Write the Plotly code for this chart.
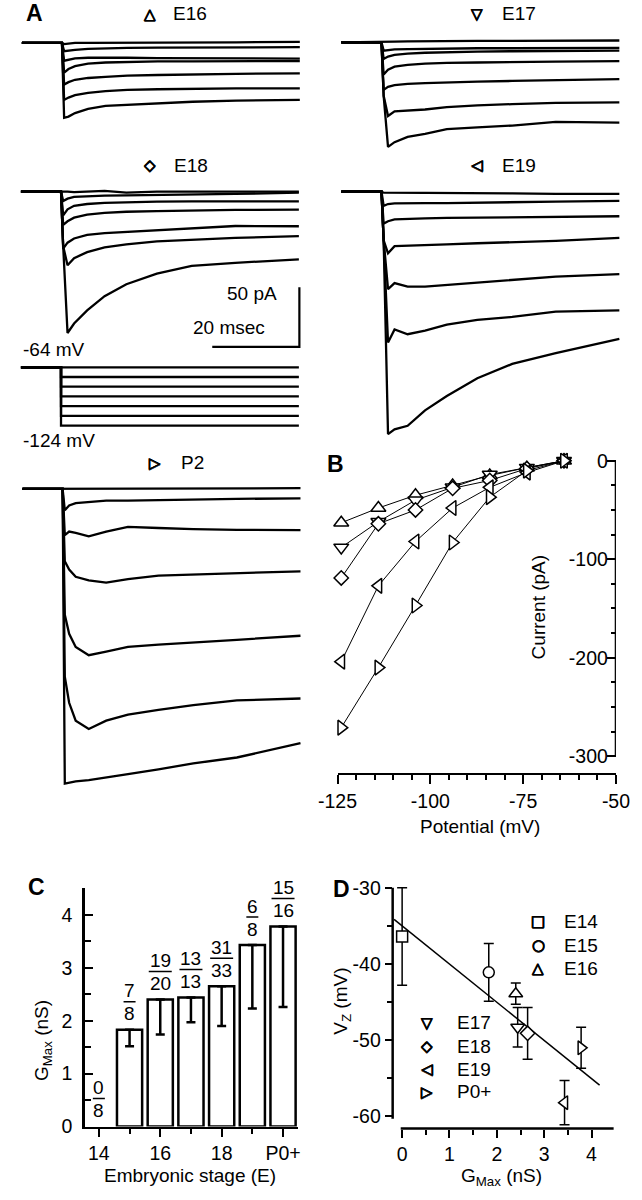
import plotly.graph_objects as go

W, H = 642, 1200
FONT = "Liberation Sans, Arial, Helvetica, sans-serif"
SYMFONT = "DejaVu Sans"

# ---------------- Panel A: whole-cell currents (time in ms, current in pA) ----------------
t_ms = [-9.2, 0, 0.5, 1.5, 3, 6, 10, 15, 22, 30, 40, 54.6]

e16_1 = [0, 0, -1, -0.5, 0, 0, 0, 0.5, 0, 0.5, 0.5, 0.8]
e16_2 = [0, 0, -7, -6.5, -5.8, -5, -4.5, -4.2, -4, -4, -3.8, -3.6]
e16_3 = [0, 0, -15, -14, -13, -12.5, -12.3, -12.5, -12.8, -13, -13, -13.2]
e16_4 = [0, 0, -25, -22, -19.5, -17.5, -16.5, -16, -15.5, -15.5, -15.3, -15.3]
e16_5 = [0, 0, -35, -33, -31, -29.5, -28.5, -27.5, -27, -26.5, -26, -25.6]
e16_6 = [0, 0, -48, -46, -44, -42, -40.5, -39.5, -39, -38.5, -38.3, -38.3]
e16_7 = [0, 0, -63, -62, -59, -55.5, -53, -52, -51, -49.5, -48.5, -48]

e17_1 = [0, 0, 0.5, 0.5, 0.5, 0.8, 1, 1, 1.2, 1.2, 1.5, 1.5]
e17_2 = [0, 0, -7, -6.5, -6, -5.8, -5.5, -5.3, -5, -5, -4.8, -4.7]
e17_3 = [0, 0, -14, -12, -10.5, -9.5, -8.8, -8.2, -7.8, -7.5, -7.2, -7]
e17_4 = [0, 0, -27, -23, -20.5, -19, -18, -17.3, -17, -16.5, -16.2, -15.8]
e17_5 = [0, 0, -40, -37.5, -36, -35, -34.3, -33.5, -33, -32.5, -31.8, -31]
e17_6 = [0, 0, -45, -62, -58, -57.5, -56.5, -54.5, -53, -52, -51, -50.5]
e17_7 = [0, 0, -45, -88, -84, -79.5, -77, -73, -71.5, -70, -67, -67.5]

e18_1 = [0, 0, 0.5, 0, -0.5, 0, 0.5, -1, 0, 0, 0, 0]
e18_2 = [0, 0, -8, -6, -4.5, -4, -3.5, -3.2, -3, -2.5, -2, -1]
e18_3 = [0, 0, -20, -15, -12, -10.5, -9.5, -9, -8.5, -8.3, -8.3, -8.3]
e18_4 = [0, 0, -28, -25, -22, -19.5, -18, -17, -16.5, -16, -15.5, -15.3]
e18_5 = [0, 0, -48, -43, -39.5, -36.5, -35, -34, -32.5, -31, -29, -29.2]
e18_6 = [0, 0, -46, -62, -56, -51, -47, -44.5, -42, -40.5, -39, -37.5]
e18_7 = [0, 0, -46, -119, -111, -100, -88, -78, -69, -62.5, -60, -57]

e19_1 = [0, 0, -1, -1, -1.5, -1, -1.5, -1, -1.5, -1.5, -2, -2]
e19_2 = [0, 0, -12, -10.5, -10, -9.7, -9.7, -9.7, -9.5, -9, -8.5, -7.8]
e19_3 = [0, 0, -27, -25, -23.5, -23, -22.5, -22.2, -22, -21.5, -21, -20.8]
e19_4 = [0, 0, -41, -52, -46, -45.5, -45, -44.4, -43.5, -42.5, -41.5, -38.9]
e19_5 = [0, 0, -41, -82, -77, -80, -80, -78.5, -76.5, -74, -71.5, -69.4]
e19_6 = [0, 0, -41, -127, -116, -120, -117, -112, -108, -105.5, -101, -100]
e19_7 = [0, 0, -41, -204, -200, -197, -184, -172, -157, -145, -136, -124]

p2_1 = [0, 0, 0, 0.5, 0, 0.5, 0, 0.5, 0, 0.5, 0.5, 0.5]
p2_2 = [0, 0, -18, -14, -12, -11, -10, -10, -9.5, -9, -8.5, -8]
p2_3 = [0, 0, -39, -36, -37, -40, -36, -32, -33, -34, -34.5, -34.7]
p2_4 = [0, 0, -61, -68, -74, -77, -79, -76, -73, -72, -71, -69.4]
p2_5 = [0, 0, -106, -122, -133, -140, -137, -133, -131, -129, -127, -123.6]
p2_6 = [0, 0, -158, -180, -195, -202, -195, -190, -186, -182, -178, -176.4]
p2_7 = [0, 0, -248, -247, -246, -245, -243, -240, -236, -231, -226, -214]

# voltage protocol
prot_t = [-9.2, 0, 0, 54.6]
hold_mV = -64
step_mV = [-64, -74, -84, -94, -104, -114, -124]
scale_pA = 50
scale_ms = 20

# ---------------- Panel B: peak current vs potential ----------------
b_mV = [-124, -114, -104, -94, -84, -74, -64]
b_e16 = [-63, -48, -35, -25, -15, -7, 0]
b_e17 = [-88, -62, -40, -27, -14, -7, 0]
b_e18 = [-119, -64, -50, -28, -20, -8, 0]
b_e19 = [-204, -127, -82, -48, -27, -12, 0]
b_p2 = [-271, -210, -147, -83, -37, -10, 0]
b_xticks = [-125, -100, -75, -50]
b_yticks = [0, -100, -200, -300]

# ---------------- Panel C: Gmax by stage ----------------
c_stage = [14, 15, 16, 17, 18, 19, 20]
c_tickvals = [14, 16, 18, 20]
c_ticktext = ["14", "16", "18", "P0+"]
c_gmax = [0, 1.83, 2.40, 2.44, 2.65, 3.43, 3.78]
c_err = [0, 0.31, 0.66, 0.47, 0.75, 1.20, 1.52]
c_num = [0, 7, 19, 13, 31, 6, 15]
c_den = [8, 8, 20, 13, 33, 8, 16]

# ---------------- Panel D: Vz vs Gmax ----------------
d_names = ["E14", "E15", "E16", "E17", "E18", "E19", "P0+"]
d_vz = [-36.4, -41.1, -43.9, -48.3, -49.1, -58.2, -51.0]
d_err = [6.4, 3.8, 1.4, 2.6, 3.4, 2.9, 2.7]
fit_x = [-0.17, 4.17]
fit_y = [-34.15, -55.9]
d_yticks = [-30, -40, -50, -60]

# ============================ figure ============================
fig = go.Figure()
layout = {}
annotations = []
shapes = []
BOLDSHADOW = ("0.5px 0 0 black, -0.5px 0 0 black, 0 0.5px 0 black, 0 -0.5px 0 black")


def dx(a, b):
    return [a / W, b / W]


def dy(top, bottom):
    return [1 - bottom / H, 1 - top / H]


def ref(c, n):
    return c if n == 1 else f"{c}{n}"


def key(c, n):
    return f"{c}axis" if n == 1 else f"{c}axis{n}"


def hy(v):
    # tick text with a plain hyphen minus, as in the original figure
    return ("-%g" % abs(v)) if v < 0 else "%g" % v


def ann(text, x, y, size=19, xanchor="center", yanchor="middle", angle=0,
        family=FONT, xref="paper", yref="paper", yshift=0, weight="normal", shadow=None):
    if xref == "paper":
        x = x / W
    if yref == "paper":
        y = 1 - y / H
    f = dict(family=family, size=size, color="black", weight=weight)
    if shadow:
        f["shadow"] = shadow
    annotations.append(dict(text=text, x=x, y=y, xref=xref, yref=yref,
                            xanchor=xanchor, yanchor=yanchor, showarrow=False,
                            textangle=angle, yshift=yshift, font=f))


def sym_ann(sym, x, y):
    ann(sym, x, y, size=15, family=SYMFONT, weight="bold", shadow=BOLDSHADOW)


XS, YS = 4.6, 1.2  # px per ms, px per pA

A_PANELS = [
    (1, [e16_1, e16_2, e16_3, e16_4, e16_5, e16_6, e16_7], 0, 300, 25, 132, 44.3, 43.3),
    (2, [e17_1, e17_2, e17_3, e17_4, e17_5, e17_6, e17_7], 335, 642, 25, 160, 381.7, 42.7),
    (3, [e18_1, e18_2, e18_3, e18_4, e18_5, e18_6, e18_7], 0, 300, 178, 356, 43.3, 193.3),
    (4, [e19_1, e19_2, e19_3, e19_4, e19_5, e19_6, e19_7], 335, 642, 178, 445, 381.7, 193.3),
    (5, [p2_1, p2_2, p2_3, p2_4, p2_5, p2_6, p2_7], 0, 300, 474, 800, 45, 493.3),
]

for n, traces, x0, x1, yt, yb, onset, base in A_PANELS:
    layout[key("x", n)] = dict(domain=dx(x0, x1), range=[(x0 - onset) / XS, (x1 - onset) / XS],
                               visible=False, anchor=ref("y", n), fixedrange=True)
    layout[key("y", n)] = dict(domain=dy(yt, yb), range=[-(yb - base) / YS, (base - yt) / YS],
                               visible=False, anchor=ref("x", n), fixedrange=True)
    for tr in traces:
        fig.add_trace(go.Scatter(x=t_ms, y=tr, mode="lines", line=dict(color="black", width=2.3),
                                 xaxis=ref("x", n), yaxis=ref("y", n), hoverinfo="skip"))

# scale bar on the E18 axes
corner_t = (295 - 43.3) / XS
corner_i = -(350 - 193.3) / YS
fig.add_trace(go.Scatter(x=[corner_t - scale_ms, corner_t, corner_t],
                         y=[corner_i, corner_i, corner_i + scale_pA],
                         mode="lines", line=dict(color="black", width=2.2),
                         xaxis="x3", yaxis="y3", hoverinfo="skip"))

# protocol axes (n=6): mV
VS = 0.98
layout["xaxis6"] = dict(domain=dx(0, 300), range=[(0 - 43.3) / XS, (300 - 43.3) / XS],
                        visible=False, anchor="y6", fixedrange=True)
layout["yaxis6"] = dict(domain=dy(362, 438), range=[hold_mV - (438 - 370.7) / VS, hold_mV + (370.7 - 362) / VS],
                        visible=False, anchor="x6", fixedrange=True)
for v in step_mV:
    fig.add_trace(go.Scatter(x=prot_t, y=[hold_mV, hold_mV, v, v], mode="lines",
                             line=dict(color="black", width=2.3), xaxis="x6", yaxis="y6", hoverinfo="skip"))

# titles for panel A
ann("A", 15, 13, size=23, weight="bold")
for sym, label, sx, tx, ty in [("△", "E16", 137, 180, 14), ("▽", "E17", 483, 527, 14),
                                ("◇", "E18", 137, 181, 167), ("◁", "E19", 483, 527, 167),
                                ("▷", "P2", 143, 182, 467)]:
    sym_ann(sym, sx, ty)
    ann(label, tx, ty, size=19)
ann("50 pA", 245, 296)
ann("20 msec", 221, 331)
ann("-64 mV", 1, 353, xanchor="left")
ann("-124 mV", 1, 445, xanchor="left")

# ---------------- Panel B ----------------
TICK = dict(showgrid=False, zeroline=False, linecolor="black", tickcolor="black",
            tickwidth=2, tickfont=dict(family=FONT, size=19.5, color="black"),
            ticklabeloverflow="allow", fixedrange=True)
layout["xaxis7"] = dict(TICK, domain=dx(335.3, 629.3), range=[-125, -50], anchor="y7",
                        showline=True, linewidth=2.5, ticks="outside", tickmode="array",
                        tickvals=b_xticks, ticktext=[hy(v) for v in b_xticks], ticklen=9,
                        minor=dict(ticks="outside", tickmode="array",
                                   tickvals=[v for v in range(-120, -50, 5) if v % 25],
                                   ticklen=5, tickwidth=2, tickcolor="black", showgrid=False))
layout["yaxis7"] = dict(TICK, domain=dy(440, 780), range=[-(780 - 465) / 0.994, (465 - 440) / 0.994],
                        anchor="x7", side="right", showline=False, ticks="inside",
                        ticklabelposition="inside", tickmode="array",
                        tickvals=b_yticks, ticktext=[hy(v) for v in b_yticks], ticklen=9,
                        minor=dict(ticks="inside", tickmode="array",
                                   tickvals=[v for v in range(-275, 0, 25) if v % 100],
                                   ticklen=5, tickwidth=2, tickcolor="black", showgrid=False))
shapes.append(dict(type="line", xref="x7", yref="y7", x0=-50, x1=-50, y0=0, y1=-300,
                   line=dict(color="black", width=2.5)))
for vals, sym, size in [(b_e16, "triangle-up", 13), (b_e17, "triangle-down", 13),
                        (b_e18, "diamond", 11), (b_e19, "triangle-left", 13),
                        (b_p2, "triangle-right", 13)]:
    fig.add_trace(go.Scatter(x=b_mV, y=vals, mode="lines+markers", xaxis="x7", yaxis="y7",
                             line=dict(color="black", width=1),
                             marker=dict(symbol=sym, size=size, color="white",
                                         line=dict(color="black", width=1.5)),
                             cliponaxis=False, hoverinfo="skip"))
ann("B", 333, 468, size=23, weight="bold")
ann("Current (pA)", 547, 613, angle=-90)
ann("Potential (mV)", 486, 834)

# ---------------- Panel C ----------------
layout["xaxis8"] = dict(TICK, domain=dx(68.3, 293.3), range=[13.538, 20.48], anchor="y8",
                        showline=True, linewidth=2.5, ticks="outside", tickmode="array",
                        tickvals=c_tickvals, ticktext=c_ticktext, ticklen=8,
                        minor=dict(ticks="outside", tickmode="array",
                                   tickvals=[s for s in c_stage if s not in c_tickvals],
                                   ticklen=5, tickwidth=2, tickcolor="black", showgrid=False))
layout["yaxis8"] = dict(TICK, domain=dy(896.7, 1137), range=[0, 4.5], anchor="x8",
                        showline=True, linewidth=2.5, ticks="inside", tickmode="linear",
                        tick0=0, dtick=1, ticklen=8, ticklabelstandoff=6,
                        minor=dict(ticks="inside", tick0=0, dtick=0.5, ticklen=6, tickwidth=2,
                                   tickcolor="black", showgrid=False))
fig.add_trace(go.Bar(x=c_stage[1:], y=c_gmax[1:], width=0.82, xaxis="x8", yaxis="y8",
                     marker=dict(color="white", line=dict(color="black", width=2.5)),
                     error_y=dict(type="data", symmetric=False, array=[0] * (len(c_stage) - 1),
                                  arrayminus=c_err[1:], color="black", thickness=2.5, width=4.5),
                     hoverinfo="skip"))
for s, g, nu, de in zip(c_stage, c_gmax, c_num, c_den):
    ann(str(nu), s, g, xref="x8", yref="y8", yshift=39)
    ann(str(de), s, g, xref="x8", yref="y8", yshift=16)
    w = 11 * max(len(str(nu)), len(str(de))) + 1
    shapes.append(dict(type="line", xref="x8", yref="y8", xsizemode="pixel", ysizemode="pixel",
                       xanchor=s, yanchor=g, x0=-w / 2, x1=w / 2, y0=28, y1=28,
                       line=dict(color="black", width=1.5)))
ann("C", 17, 895, size=23, weight="bold")
ann("G<sub>Max</sub> (nS)", 25, 1050, angle=-90)
ann("Embryonic stage (E)", 180, 1186)

# ---------------- Panel D ----------------
DY0, DPX = 896.0, 7.69
layout["xaxis9"] = dict(TICK, domain=dx(393.5, 627), range=[-0.2, 4.47], anchor="y9",
                        showline=False, ticks="outside", tickmode="linear", tick0=0, dtick=1, ticklen=8,
                        minor=dict(ticks="outside", tick0=0, dtick=0.5, ticklen=5, tickwidth=2,
                                   tickcolor="black", showgrid=False))
layout["yaxis9"] = dict(TICK, domain=dy(885, 1139),
                        range=[-30 - (1139 - DY0) / DPX, -30 + (DY0 - 885) / DPX], anchor="x9",
                        showline=False, ticks="outside", tickmode="array",
                        tickvals=d_yticks, ticktext=[hy(v) for v in d_yticks], ticklen=7,
                        minor=dict(ticks="outside", tickmode="array", tickvals=[-35, -45, -55],
                                   ticklen=5, tickwidth=2, tickcolor="black", showgrid=False))
shapes.append(dict(type="line", xref="x9", yref="paper", x0=-0.03, x1=4.47,
                   y0=1 - 1139 / H, y1=1 - 1139 / H, line=dict(color="black", width=2.5)))
shapes.append(dict(type="line", xref="paper", yref="y9", x0=393.5 / W, x1=393.5 / W,
                   y0=-30, y1=-60.3, line=dict(color="black", width=2.5)))
fig.add_trace(go.Scatter(x=fit_x, y=fit_y, mode="lines", line=dict(color="black", width=1.5),
                         xaxis="x9", yaxis="y9", hoverinfo="skip"))
d_sym = ["square", "circle", "triangle-up", "triangle-down", "diamond", "triangle-left", "triangle-right"]
d_size = [11, 11, 12, 12, 11, 12, 12]
for g, v, e, sym, sz in zip(c_gmax, d_vz, d_err, d_sym, d_size):
    fig.add_trace(go.Scatter(x=[g], y=[v], mode="markers", xaxis="x9", yaxis="y9",
                             marker=dict(symbol=sym, size=sz, color="white",
                                         line=dict(color="black", width=1.5)),
                             error_y=dict(type="data", array=[e], color="black", thickness=1.5, width=5),
                             cliponaxis=False, hoverinfo="skip"))
ann("D", 339, 897, size=23, weight="bold")
ann("V<sub>Z</sub> (mV)", 340, 1010, angle=-90)
ann("G<sub>Max</sub> (nS)", 508, 1188)
leg_syms = ["□", "○", "△", "▽", "◇", "◁", "▷"]
leg_pos = [(547, 572, 930), (547, 572, 954), (547, 572, 977),
           (430, 459, 1032), (430, 459, 1056), (430, 459, 1079), (430, 459, 1102)]
for sym, name, (sx, tx, ty) in zip(leg_syms, d_names, leg_pos):
    sym_ann(sym, sx, ty)
    ann(name, tx, ty, xanchor="left")

layout.update(width=W, height=H, margin=dict(l=0, r=0, t=0, b=0), autosize=False,
              paper_bgcolor="white", plot_bgcolor="rgba(0,0,0,0)", showlegend=False,
              font=dict(family=FONT, size=19, color="black"),
              annotations=annotations, shapes=shapes, bargap=0)
fig.update_layout(**layout)
fig.write_html("out.html", config={"displayModeBar": False, "staticPlot": True},
               post_script="document.body.style.margin='0';document.body.style.padding='0';")
